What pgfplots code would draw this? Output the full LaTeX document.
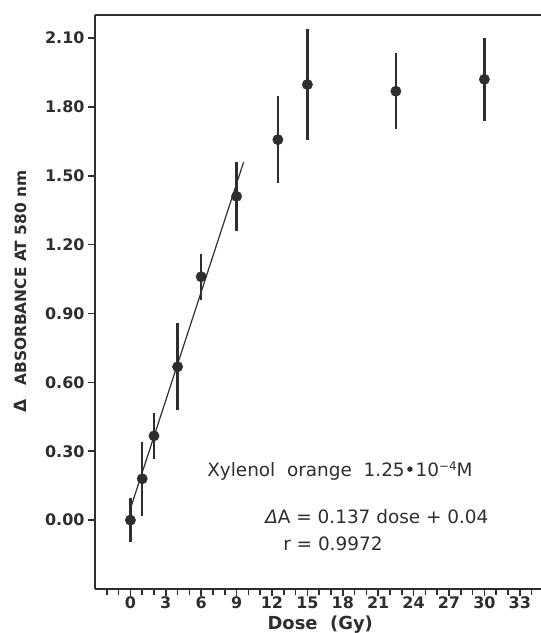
\documentclass[border=0pt]{standalone}
\usepackage{pgfplots}
\pgfplotsset{compat=1.18}
\usepackage{fontspec}
\setmainfont{DejaVu Sans}
\definecolor{ink}{HTML}{2E2E2E}
\begin{document}
\begin{tikzpicture}
\begin{axis}[
  at={(0,0)}, anchor=south west,
  width=446bp, height=574bp, scale only axis,
  xmin=-3, xmax=34.8, ymin=-0.3, ymax=2.2,
  axis x line*=box, axis y line*=left,
  axis line style={line width=1.6bp, color=ink},
  xtick={0,3,...,33},
  minor xtick={-2,-1,...,34},
  ytick={0,0.3,0.6,0.9,1.2,1.5,1.8,2.1},
  xtick pos=lower,
  tick align=outside,
  major tick length=7bp, minor tick length=6bp,
  every tick/.style={line width=1.6bp, color=ink},
  /pgf/number format/assume math mode=true,
  tick label style={font=\bfseries\fontsize{16}{16}\selectfont, color=ink},
  yticklabel style={/pgf/number format/.cd, fixed, fixed zerofill, precision=2},
  xticklabel style={yshift=3bp},
  xlabel={Dose\ \ (Gy)},
  xlabel style={at={(axis description cs:0.505,0)}, anchor=base, yshift=-40bp, inner sep=0pt, font=\bfseries\fontsize{18}{18}\selectfont, color=ink},
  ylabel={{\fontsize{17}{17}\selectfont Δ}\hspace{14bp}ABSORBANCE AT 580 nm},
  ylabel style={at={(axis description cs:-0.168,0.518)}, anchor=center, inner sep=0pt, font=\bfseries\fontsize{15.5}{15.5}\selectfont, color=ink},
  clip=false,
]
\addplot[only marks, mark=*, mark size=5.2bp, color=ink,
  error bars/.cd, y dir=both, y explicit,
  error bar style={line width=2.4bp, color=ink}, error mark=none]
  table[x=x, y=y, y error=err] {
x y err
0 0.00 0.095
1 0.18 0.16
2 0.367 0.10
4 0.668 0.19
6 1.06 0.10
9 1.41 0.15
12.5 1.657 0.19
15 1.897 0.24
22.5 1.868 0.165
30 1.92 0.18
};
\addplot[line width=1.2bp, color=ink] coordinates {(0,0.05) (9.6,1.56)};
\node[anchor=base west, inner sep=0pt, font=\fontsize{18.5}{18.5}\selectfont, color=ink] at (axis cs:6.5,0.192) {Xylenol\ \ orange\ \ 1.25•10\raisebox{0.55ex}{\fontsize{12}{12}\selectfont −4}M};
\node[anchor=base west, inner sep=0pt, font=\fontsize{18.5}{18.5}\selectfont, color=ink] at (axis cs:11.42,-0.013) {\textit{Δ}A = 0.137 dose + 0.04};
\node[anchor=base west, inner sep=0pt, font=\fontsize{18.5}{18.5}\selectfont, color=ink] at (axis cs:12.94,-0.131) {r = 0.9972};
\end{axis}
\pgfresetboundingbox
\path[use as bounding box] (-95bp,-44bp) rectangle (446bp,589bp);
\end{tikzpicture}
\end{document}
